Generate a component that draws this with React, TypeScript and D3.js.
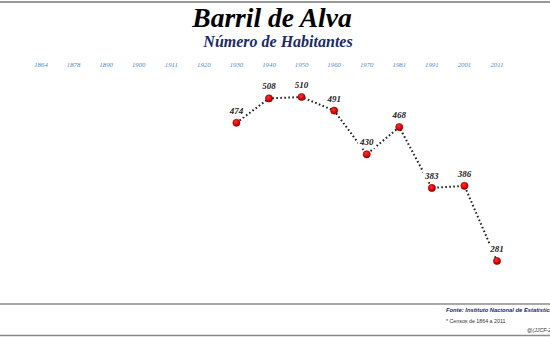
import React from "react";
import * as d3 from "d3";

const years = ["1864","1878","1890","1900","1911","1920","1930","1940","1950","1960","1970","1981","1991","2001","2011"];
const dataYears = ["1930","1940","1950","1960","1970","1981","1991","2001","2011"];
const population = [474, 508, 510, 491, 430, 468, 383, 386, 281];
const title = "Barril de Alva";
const subtitle = "Número de Habitantes";
const sourceText = "Fonte: Instituto Nacional de Estatística";
const noteText = "* Censos de 1864 a 2011";
const creditText = "@(JJCF-2014)";

export default function App() {
  const W = 550, H = 338;
  const x = d3.scalePoint<string>().domain(years).range([41, 497]);
  const y = d3.scaleLinear().domain([281, 510]).range([261, 97]);
  const pts = dataYears.map((yr, i) => ({ yr, v: population[i] }));
  const line = d3.line<{ yr: string; v: number }>().x(d => x(d.yr)!).y(d => y(d.v));
  return (
    <svg width={W} height={H} style={{ position: "absolute", left: 0, top: 0, background: "#fff" }}>
      <defs>
        <radialGradient id="rg" cx="40%" cy="35%" r="65%">
          <stop offset="0%" stopColor="#ff3030" />
          <stop offset="70%" stopColor="#dd0000" />
          <stop offset="100%" stopColor="#990000" />
        </radialGradient>
      </defs>
      <line x1={0} x2={W} y1={2} y2={2} stroke="#777" strokeWidth={1.5} />
      <text x={272} y={27} textAnchor="middle" fontFamily="Liberation Serif, serif" fontStyle="italic" fontWeight="bold" fontSize={27.5} fill="#000">{title}</text>
      <text x={278} y={47} textAnchor="middle" fontFamily="Liberation Serif, serif" fontStyle="italic" fontWeight="bold" fontSize={16} fill="#1a2a6a">{subtitle}</text>
      {years.map(yr => (
        <text key={yr} x={x(yr)} y={67} textAnchor="middle" fontFamily="Liberation Serif, serif" fontStyle="italic" fontSize={6.8} fill="#4a8ad0">{yr}</text>
      ))}
      <path d={line(pts)!} fill="none" stroke="#222" strokeWidth={2} strokeDasharray="1.6 2.4" />
      {pts.map(p => (
        <rect key={"bg" + p.yr} x={x(p.yr)! - 9} y={y(p.v) - 17} width={18} height={11} fill="#fff" />
      ))}
      {pts.map(p => (
        <g key={p.yr}>
          <circle cx={x(p.yr)} cy={y(p.v)} r={3.6} fill="url(#rg)" stroke="#8a0000" strokeWidth={0.6} />
          <text x={x(p.yr)} y={y(p.v) - 9} textAnchor="middle" fontFamily="Liberation Serif, serif" fontStyle="italic" fontWeight="bold" fontSize={9} fill="#222">{p.v}</text>
        </g>
      ))}
      <line x1={0} x2={W} y1={304} y2={304} stroke="#555" strokeWidth={1.2} />
      <line x1={0} x2={W} y1={335.5} y2={335.5} stroke="#888" strokeWidth={1.5} />
      <text x={446} y={312} fontFamily="Liberation Sans, sans-serif" fontStyle="italic" fontWeight="bold" fontSize={5.8} fill="#1a2a6a">{sourceText}</text>
      <text x={446} y={323} fontFamily="Liberation Sans, sans-serif" fontSize={5.3} fill="#333">{noteText}</text>
      <text x={527} y={332} fontFamily="Liberation Sans, sans-serif" fontStyle="italic" fontSize={5.3} fill="#333">{creditText}</text>
    </svg>
  );
}
